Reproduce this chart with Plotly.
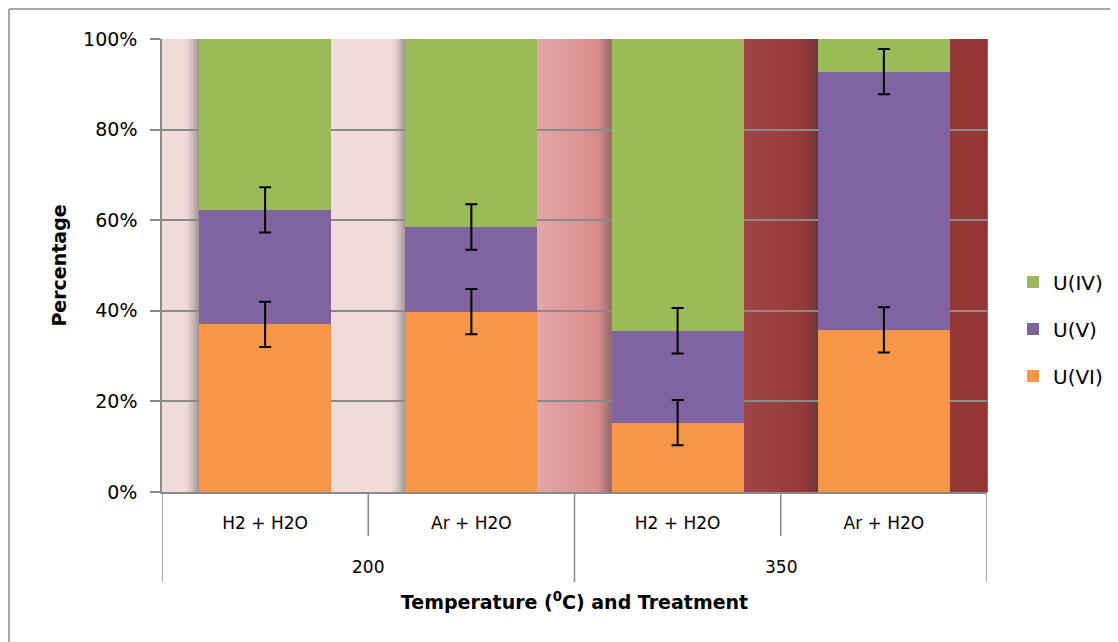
import plotly.graph_objects as go

# ---- data ----
temperatures = ["200", "350"]
treatments = ["H2 + H2O", "Ar + H2O", "H2 + H2O", "Ar + H2O"]
u_vi = [37.0, 39.8, 15.3, 35.8]
u_v = [25.3, 18.7, 20.3, 57.0]
u_iv = [37.7, 41.5, 64.4, 7.2]
err_vi = [5, 5, 5, 5]
err_v = [5, 5, 5, 5]
y_ticks = [0, 20, 40, 60, 80, 100]
y_ticklabels = ["0%", "20%", "40%", "60%", "80%", "100%"]

series_names = ["U(VI)", "U(V)", "U(IV)"]
series_colors = ["#F79646", "#8064A2", "#9BBB59"]

FONT = "DejaVu Sans"
OFF = 8  # page body margin
W, H = 1118 - OFF, 642 - OFF
PW, PH = 825, 453
ML, MT = 162 - OFF, 39 - OFF
MR = W - ML - PW
MB = H - MT - PH

xpos = list(range(len(treatments)))

fig = go.Figure()
vals = [u_vi, u_v, u_iv]
ranks = [3, 2, 1]
for name, col, v, r in zip(series_names, series_colors, vals, ranks):
    fig.add_trace(go.Bar(x=xpos, y=v, name=name, marker=dict(color=col, line=dict(width=0)),
                         legendgroup=name, legendrank=r))

# error bars at the top of the stacked U(VI) and U(V) segments
cum_vi = list(u_vi)
cum_v = [a + b for a, b in zip(u_vi, u_v)]
for ys, es in [(cum_vi, err_vi), (cum_v, err_v)]:
    fig.add_trace(go.Scatter(x=xpos, y=ys, mode="markers", showlegend=False, hoverinfo="skip",
                             marker=dict(size=1, color="rgba(0,0,0,0)"),
                             error_y=dict(type="data", array=es, visible=True, color="#000000",
                                          thickness=2, width=6)))

# ---- background gradient of plot area (decoration) ----
stops = [(0.0, (0xF2, 0xDC, 0xDB)), (0.294, (0xF2, 0xDC, 0xDB)), (0.456, (0xE3, 0xA6, 0xA6)),
         (0.547, (0xD3, 0x88, 0x86)), (0.709, (0xA0, 0x45, 0x45)), (0.80, (0x91, 0x35, 0x35)),
         (1.0, (0x95, 0x37, 0x35))]

def grad(f):
    for (a, ca), (b, cb) in zip(stops[:-1], stops[1:]):
        if a <= f <= b:
            t = 0 if b == a else (f - a) / (b - a)
            c = [round(ca[k] + (cb[k] - ca[k]) * t) for k in range(3)]
            return "rgb(%d,%d,%d)" % tuple(c)
    return "rgb(149,55,53)"

shapes = []
N = 160
for k in range(N):
    f0, f1 = k / N, (k + 1) / N
    shapes.append(dict(type="rect", xref="paper", yref="paper", x0=f0, x1=f1 + 0.001, y0=0, y1=1,
                       fillcolor=grad((f0 + f1) / 2), line=dict(width=0), layer="below"))

# shadows at the left side of each bar
bargap = 0.36
for i in xpos:
    edge = i - (1 - bargap) / 2
    for s in range(7):
        w = 2.0 / PW * 4
        x1 = edge - s * w
        shapes.append(dict(type="rect", xref="x", yref="paper", x0=x1 - w, x1=x1, y0=0, y1=1,
                           fillcolor="rgba(60,60,60,%.3f)" % (0.42 * (1 - s / 7) ** 1.5),
                           line=dict(width=0), layer="between"))

# category dividers below the axis
GRAY = "#8A8A8A"
n = len(treatments)
for b in range(n + 1):
    xb = b - 0.5
    full = (b % 2 == 0)
    y0 = -(90 if full else 44) / PH
    shapes.append(dict(type="line", xref="x", yref="paper", x0=xb, x1=xb, y0=0, y1=y0,
                       line=dict(color=GRAY, width=1.5)))

# outer chart border
bx0 = (1.0 - ML) / PW
by1 = 1 + (MT - (9 - OFF)) / PH
shapes.append(dict(type="line", xref="paper", yref="paper", x0=bx0, x1=bx0, y0=-MB / PH, y1=by1,
                   line=dict(color=GRAY, width=1.5)))
shapes.append(dict(type="line", xref="paper", yref="paper", x0=bx0, x1=(W - ML) / PW, y0=by1, y1=by1,
                   line=dict(color=GRAY, width=1.5)))

# outer (temperature) group labels
annotations = []
for g, t in enumerate(temperatures):
    annotations.append(dict(x=2 * g + 0.5, y=-75 / PH, xref="x", yref="paper", text=t,
                            showarrow=False, yanchor="middle", font=dict(size=17, family=FONT)))

fig.update_layout(
    width=W, height=H,
    margin=dict(l=ML, r=MR, t=MT, b=MB, autoexpand=False),
    paper_bgcolor="white", plot_bgcolor="white",
    barmode="stack", bargap=bargap,
    font=dict(family=FONT, color="#000000"),
    shapes=shapes, annotations=annotations,
    legend=dict(x=1.0315, y=0.36, xanchor="left", yanchor="middle",
                font=dict(size=20, family=FONT), tracegroupgap=18,
                traceorder="grouped", itemwidth=30),
    xaxis=dict(
        range=[-0.5, n - 0.5], tickvals=xpos, ticktext=treatments,
        showline=True, linecolor=GRAY, linewidth=1.5, automargin=False,
        ticks="outside", ticklen=15, tickcolor="rgba(0,0,0,0)",
        tickfont=dict(size=17, family=FONT), showgrid=False, zeroline=False,
        title=dict(text="<b>Temperature (<sup>0</sup>C) and Treatment</b>",
                   font=dict(size=19, family=FONT), standoff=64),
    ),
    yaxis=dict(
        range=[0, 100], tickvals=y_ticks, ticktext=y_ticklabels, automargin=False,
        showgrid=True, gridcolor=GRAY, gridwidth=1.5,
        showline=True, linecolor=GRAY, linewidth=1.5,
        ticks="outside", ticklen=10, tickcolor=GRAY, tickwidth=1.5,
        ticklabelstandoff=9,
        tickfont=dict(size=19, family=FONT),
        zeroline=False,
        title=dict(text="<b>Percentage</b>", font=dict(size=19, family=FONT), standoff=11),
    ),
)

fig.write_html("out.html")
